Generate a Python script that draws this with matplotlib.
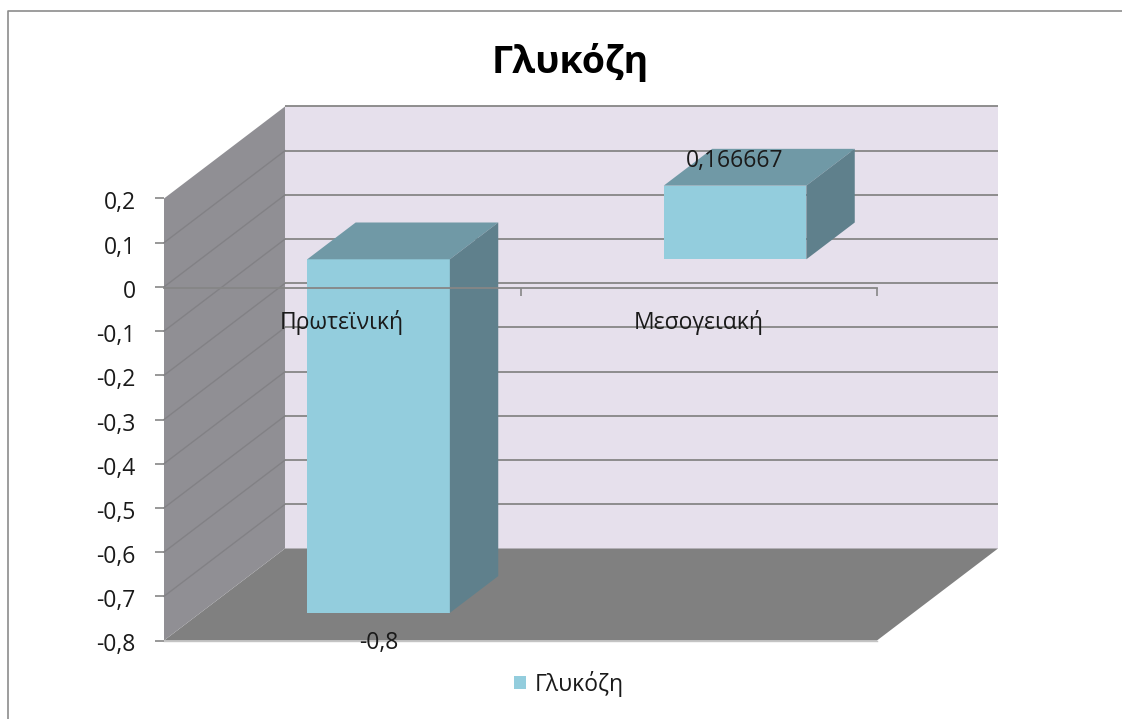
import matplotlib
matplotlib.use("Agg")
import matplotlib.pyplot as plt
from matplotlib.lines import Line2D
from matplotlib.patches import Polygon
from matplotlib.transforms import ScaledTranslation

plt.rcParams['font.family'] = ['Open Sans', 'Noto Sans', 'DejaVu Sans']

### Data
title = "Γλυκόζη"
categories = ["Πρωτεϊνική", "Μεσογειακή"]
values = [-0.8, 0.166667]
value_labels = ["-0,8", "0,166667"]
yticks = [0.2, 0.1, 0, -0.1, -0.2, -0.3, -0.4, -0.5, -0.6, -0.7, -0.8]
ytick_labels = ["0,2", "0,1", "0", "-0,1", "-0,2", "-0,3", "-0,4", "-0,5", "-0,6", "-0,7", "-0,8"]

### Colours
WALL_BACK = "#E6E0EC"
WALL_LEFT = "#908F94"
FLOOR = "#808080"
GRID = "#868686"
WALL_GRID = "#828185"
BAR_FRONT = "#93CDDD"
BAR_TOP = "#7099A6"
BAR_SIDE = "#5F808C"
TEXT = "#1a1a1a"
LABEL_SIZE = 16.5

W, H = 1122, 719
fig = plt.figure(figsize=(W/100, H/100), dpi=100)

# the axes is the front plane of the box, depth is added by shifting
left, right, top, bottom = 164, 877, 198.5, 640.5
ax = fig.add_axes([left/W, 1 - bottom/H, (right-left)/W, (bottom-top)/H])
ax.set_xlim(0, 2)
ax.set_ylim(-0.8, 0.2)
ax.patch.set_visible(False)

DX = 121 / (right-left) * 2        # full depth in x units
DY = 92 / (bottom-top)             # full depth in y units
GAP_WIDTH = 0.4
BAR_D0, BAR_D1 = 0.3, 0.7


def proj(x, y, d):
    return (x + d*DX, y + d*DY)


def face(points, color, z):
    ax.add_patch(Polygon(points, closed=True, facecolor=color, edgecolor="none",
                         clip_on=False, zorder=z))


### Walls and floor
face([proj(0, -0.8, 1), proj(2, -0.8, 1), proj(2, 0.2, 1), proj(0, 0.2, 1)], WALL_BACK, 0.1)
face([proj(0, -0.8, 0), proj(2, -0.8, 0), proj(2, -0.8, 1), proj(0, -0.8, 1)], FLOOR, 0.2)
face([proj(0, -0.8, 0), proj(0, -0.8, 1), proj(0, 0.2, 1), proj(0, 0.2, 0)], WALL_LEFT, 0.2)
ax.plot([0, 2], [-0.8, -0.8], color="#c4c4c4", lw=1.0, clip_on=False, zorder=0.3)

### Gridlines on the left and back wall
for v in yticks:
    a, b, c = proj(0, v, 0), proj(0, v, 1), proj(2, v, 1)
    if v not in (0.2, -0.8):
        ax.plot([a[0], b[0]], [a[1], b[1]], color=WALL_GRID, lw=1.0, clip_on=False, zorder=0.3)
    if v != -0.8:
        ax.plot([b[0], c[0]], [b[1], c[1]], color=GRID, lw=1.3, clip_on=False, zorder=0.3,
                solid_capstyle="butt")

### Axes
ax.set_axisbelow(True)
for s in ["top", "right", "left"]:
    ax.spines[s].set_visible(False)
ax.spines["bottom"].set_position(("data", -0.002))
ax.spines["bottom"].set_color(GRID)
ax.spines["bottom"].set_linewidth(1.3)
ax.set_xticks([1, 2])
ax.set_xticklabels([])
ax.tick_params(axis="x", length=5.5, width=1.2, color=GRID)
ax.set_yticks(yticks)
ax.set_yticklabels(ytick_labels)
ax.tick_params(axis="y", length=6.5, width=1.2, color=GRID, labelsize=LABEL_SIZE, pad=14,
               labelcolor=TEXT)
for lab in ax.get_yticklabels():
    lab.set_transform(lab.get_transform() + ScaledTranslation(0, -2/100, fig.dpi_scale_trans))

### Bars
centers = [i + 0.5 for i in range(len(values))]
x0s = [c + BAR_D0*DX for c in centers]
bars = ax.bar(x0s, values, width=GAP_WIDTH, bottom=BAR_D0*DY, color=BAR_FRONT,
              clip_on=False, zorder=2, label=title)

for c, v, lab in zip(centers, values, value_labels):
    xa, xb = c - GAP_WIDTH/2, c + GAP_WIDTH/2
    hi, lo = max(v, 0), min(v, 0)
    face([proj(xa, hi, BAR_D0), proj(xb, hi, BAR_D0), proj(xb, hi, BAR_D1), proj(xa, hi, BAR_D1)],
         BAR_TOP, 2)
    face([proj(xb, lo, BAR_D0), proj(xb, lo, BAR_D1), proj(xb, hi, BAR_D1), proj(xb, hi, BAR_D0)],
         BAR_SIDE, 2)
    # value label sits past the end of the bar
    px, py = proj(c, v, BAR_D0)
    off = 25 if v > 0 else -30
    ax.annotate(lab, (px, py), xytext=(0, off*0.72), textcoords="offset points",
                ha="center", va="center", fontsize=LABEL_SIZE, color=TEXT,
                annotation_clip=False, zorder=5)

### Category names, drawn over the bars
for c, name in zip(centers, categories):
    ax.annotate(name, (c, 0), xytext=(0, -36*0.72), textcoords="offset points",
                ha="center", va="center", fontsize=LABEL_SIZE, color=TEXT, zorder=5)

### Title, legend, outer frame
fig.text(570/W, 1 - 62/H, title, ha="center", va="center", fontsize=27, fontweight="bold",
         color="black")
fig.legend(handles=[bars], loc="center", bbox_to_anchor=(568.5/W, 1 - 684/H), frameon=False,
           fontsize=LABEL_SIZE, labelcolor=TEXT, handlelength=0.55, handleheight=0.5,
           handletextpad=0.36)
fig.add_artist(Line2D([8/W, 8/W, 1], [0, 1 - 11/H, 1 - 11/H], color="#8c8c8c", lw=1.2))

fig.savefig("out.png", dpi=100)
